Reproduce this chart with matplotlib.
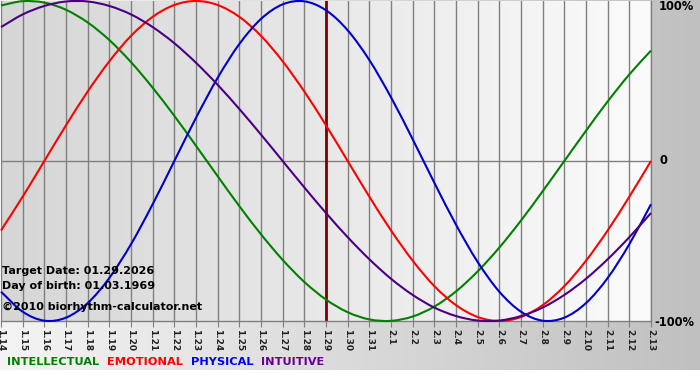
import matplotlib
matplotlib.use('Agg')
import matplotlib.pyplot as plt
import numpy as np
from matplotlib.colors import LinearSegmentedColormap
from matplotlib.path import Path
from matplotlib.patches import PathPatch

dates = ['1.14', '1.15', '1.16', '1.17', '1.18', '1.19', '1.20', '1.21', '1.22', '1.23',
         '1.24', '1.25', '1.26', '1.27', '1.28', '1.29', '1.30', '1.31', '2.1', '2.2',
         '2.3', '2.4', '2.5', '2.6', '2.7', '2.8', '2.9', '2.10', '2.11', '2.12', '2.13']

intellectual = [0.972, 0.999, 0.990, 0.945, 0.866, 0.756, 0.618, 0.458, 0.282, 0.095,
                -0.095, -0.282, -0.458, -0.618, -0.756, -0.866, -0.945, -0.990, -0.999, -0.972,
                -0.910, -0.815, -0.690, -0.541, -0.372, -0.189, 0.0, 0.189, 0.372, 0.541, 0.690]
emotional = [-0.434, -0.223, 0.0, 0.223, 0.434, 0.623, 0.782, 0.901, 0.975, 1.000,
             0.975, 0.901, 0.782, 0.623, 0.434, 0.223, 0.0, -0.223, -0.434, -0.623,
             -0.782, -0.901, -0.975, -1.000, -0.975, -0.901, -0.782, -0.623, -0.434, -0.223, 0.0]
physical = [-0.817, -0.942, -0.998, -0.979, -0.888, -0.731, -0.520, -0.270, 0.0, 0.270,
            0.520, 0.731, 0.888, 0.979, 0.998, 0.942, 0.817, 0.631, 0.398, 0.136,
            -0.136, -0.398, -0.631, -0.817, -0.942, -0.998, -0.979, -0.888, -0.731, -0.520, -0.270]
intuitive = [0.837, 0.916, 0.969, 0.997, 0.997, 0.969, 0.916, 0.837, 0.736, 0.614,
             0.476, 0.325, 0.165, 0.0, -0.165, -0.325, -0.476, -0.614, -0.736, -0.837,
             -0.916, -0.969, -0.997, -0.997, -0.969, -0.916, -0.837, -0.736, -0.614, -0.476, -0.325]

series_names = ['INTELLECTUAL', 'EMOTIONAL', 'PHYSICAL', 'INTUITIVE']
series_colors = ['#008000', '#ff0000', '#0000cc', '#4b0082']
legend_colors = ['#008000', '#ff0000', '#0000ff', '#660099']
target_date = '1.29'
info_lines = ['Target Date: 01.29.2026', 'Day of birth: 01.03.1969', '\u00a92010 biorhythm-calculator.net']
y_labels = ['100%', '0', '-100%']

W, H = 700, 380
plt.rcParams['font.family'] = ['DejaVu Sans']
fig = plt.figure(figsize=(W / 100, H / 100), dpi=100)
fig.patch.set_facecolor('white')

# overall background gradient (light left -> gray right)
bg = fig.add_axes([0, 10 / H, 1, 370 / H])
bg.imshow(np.linspace(0, 1, 256).reshape(1, -1),
          cmap=LinearSegmentedColormap.from_list('bgg', ['#f4f4f4', '#c0c0c0']),
          aspect='auto', extent=[0, 1, 0, 1])
bg.set_xlim(0, 1); bg.set_ylim(0, 1)
bg.axis('off')

ax = fig.add_axes([1 / W, 1 - 321 / H, 650 / W, 320 / H])
x = np.arange(len(dates))
ax.imshow(np.linspace(0, 1, 256).reshape(1, -1),
          cmap=LinearSegmentedColormap.from_list('pg', ['#d6d6d6', '#fbfbfb']),
          aspect='auto', extent=[0, len(dates) - 1, -1, 1], zorder=0)
for xi in x:
    ax.axvline(xi, color='#808080', lw=1, zorder=1)
ax.axhline(0, color='#808080', lw=1, zorder=1)
ax.axvline(dates.index(target_date), color='#800000', lw=2, zorder=2)


def smooth_path(xs, ys):
    """Smooth cubic-Bezier rendering through the given daily points (Catmull-Rom tangents)."""
    pts = np.column_stack([xs, ys]).astype(float)
    n = len(pts)
    tang = np.zeros_like(pts)
    tang[1:-1] = (pts[2:] - pts[:-2]) / 2.0
    tang[0] = pts[1] - pts[0]
    tang[-1] = pts[-1] - pts[-2]
    verts = [pts[0]]
    codes = [Path.MOVETO]
    for i in range(n - 1):
        verts += [pts[i] + tang[i] / 3.0, pts[i + 1] - tang[i + 1] / 3.0, pts[i + 1]]
        codes += [Path.CURVE4] * 3
    return Path(verts, codes)


for vals, c in zip([intellectual, emotional, physical, intuitive], series_colors):
    patch = PathPatch(smooth_path(x, vals), facecolor='none', edgecolor=c, lw=1.5,
                      zorder=3, clip_on=False, joinstyle='round')
    ax.add_patch(patch)

ax.set_xlim(0, len(dates) - 1)
ax.set_ylim(-1, 1)
ax.set_xticks(x)
ax.set_xticklabels(dates, rotation=-90, fontsize=6.5, fontweight='bold', color='#222222')
ax.tick_params(axis='x', length=4, color='#808080', pad=2)
ax.set_yticks([])
for s in ['top', 'left']:
    ax.spines[s].set_visible(False)
for s in ['bottom', 'right']:
    ax.spines[s].set_color('#808080')
    ax.spines[s].set_linewidth(1)

# info text
for ypx, t in zip([271, 286, 307], info_lines):
    fig.text(2 / W, 1 - ypx / H, t, fontsize=8, fontweight='bold', color='black', va='center', ha='left')

# right labels
fig.text(659 / W, 1 - 7 / H, y_labels[0], fontsize=8.3, fontweight='bold', va='center', ha='left')
fig.text(659 / W, 1 - 161 / H, y_labels[1], fontsize=8.3, fontweight='bold', va='center', ha='left')
fig.text(654 / W, 1 - 322 / H, y_labels[2], fontsize=8.3, fontweight='bold', va='center', ha='left')

# legend text
xpos = 7
for name, c in zip(series_names, legend_colors):
    t = fig.text(xpos / W, 1 - 362 / H, name, fontsize=8.2, fontweight='bold', color=c, va='center', ha='left')
    fig.canvas.draw()
    bb = t.get_window_extent()
    xpos = bb.x1 + 8

fig.savefig('out.png', dpi=100)
